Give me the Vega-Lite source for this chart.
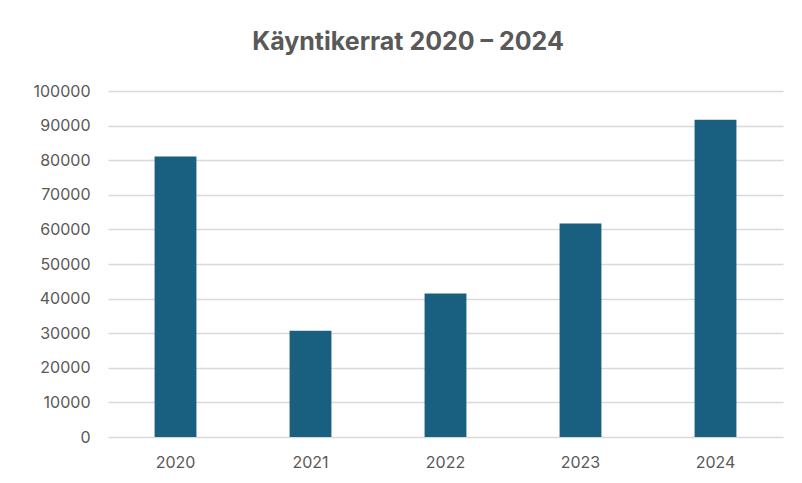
{
  "$schema": "https://vega.github.io/schema/vega-lite/v6.json",
  "autosize": {"type": "none"},
  "padding": {"left": 108, "top": 91, "right": 19, "bottom": 46},
  "width": 675,
  "height": 346,
  "background": "white",
  "title": {
    "text": "Käyntikerrat 2020 – 2024",
    "font": "Inter",
    "fontSize": 25,
    "fontWeight": "bold",
    "color": "#595959",
    "anchor": "middle",
    "frame": "bounds",
    "offset": 28
  },
  "data": {
    "values": [
      {"vuosi": "2020", "kayntikerrat": 81100},
      {"vuosi": "2021", "kayntikerrat": 30700},
      {"vuosi": "2022", "kayntikerrat": 41500},
      {"vuosi": "2023", "kayntikerrat": 61700},
      {"vuosi": "2024", "kayntikerrat": 91700}
    ]
  },
  "mark": {"type": "bar", "color": "#185f80"},
  "encoding": {
    "x": {
      "field": "vuosi",
      "type": "nominal",
      "title": null,
      "scale": {"paddingInner": 0.69, "paddingOuter": 0.345},
      "axis": {
        "labelAngle": 0,
        "labelFont": "Inter",
        "labelFontSize": 16,
        "labelColor": "#595959",
        "labelPadding": 17,
        "ticks": false,
        "domain": false,
        "grid": false
      }
    },
    "y": {
      "field": "kayntikerrat",
      "type": "quantitative",
      "title": null,
      "scale": {"domain": [0, 100000], "nice": false},
      "axis": {
        "values": [0, 10000, 20000, 30000, 40000, 50000, 60000, 70000, 80000, 90000, 100000],
        "format": "d",
        "labelFont": "Inter",
        "labelFontSize": 16,
        "labelColor": "#595959",
        "labelPadding": 18,
        "ticks": false,
        "domain": false,
        "grid": true,
        "gridColor": "#d9d9d9",
        "gridWidth": 1.5
      }
    }
  },
  "config": {"view": {"stroke": null}}
}
